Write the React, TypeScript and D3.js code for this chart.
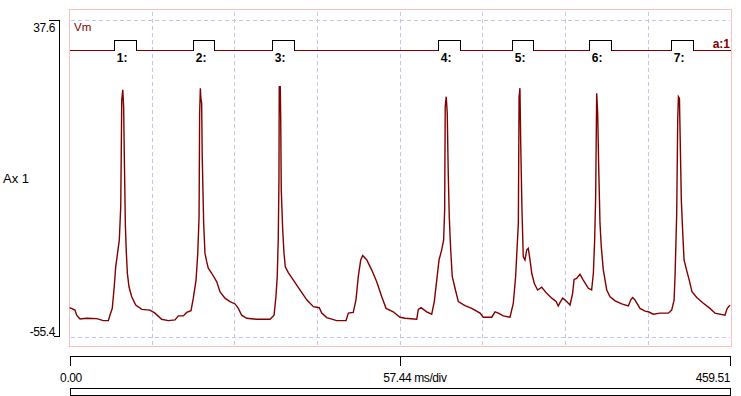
import React from "react";
import * as d3 from "d3";

// Membrane potential trace (time in ms, Vm in mV)
const timeMs = [
  0.1, 3.8, 5.0, 7.3, 11.9, 18.9, 23.5, 27.0, 28.1, 29.7, 31.1, 32.1, 33.5, 34.6, 35.6, 36.3, 37.0, 37.6, 38.1, 38.8,
  39.5, 40.2, 41.3, 43.2, 46.0, 50.2, 55.9, 59.4, 64.0, 68.6, 73.3, 75.6, 79.1, 81.4, 84.4, 86.0, 87.9, 89.1, 90.0, 90.4,
  90.9, 91.3, 91.8, 92.2, 93.2, 94.1, 95.3, 96.4, 98.8, 102.3, 104.5, 108.0, 111.5, 115.0,
  117.3, 119.6, 123.1, 130.0, 139.3, 142.1, 143.4, 144.3, 145.0, 145.5, 145.7, 146.4, 146.7, 147.1, 148.1, 149.0, 149.9,
  152.0, 155.5, 160.1, 164.8, 169.4, 173.5, 175.2, 178.7, 185.6, 192.1, 193.7, 197.1, 199.0, 200.6, 202.3, 203.7, 206.5,
  209.9, 213.4, 216.9, 219.9, 224.9, 229.6,
  233.1, 241.2, 242.3, 244.2, 248.1, 251.6, 253.4, 255.1, 256.7, 258.5, 259.9, 260.6, 261.0, 261.7, 262.4, 263.1, 263.8,
  264.8, 265.9, 267.8, 270.1, 274.7, 279.4, 285.2, 287.4, 293.3, 295.6, 297.9, 301.3, 306.0, 308.3, 309.9, 311.8, 312.3,
  312.9, 313.4, 314.3, 315.2, 316.4, 317.6, 318.7, 319.9, 321.1, 322.9, 325.2, 328.0, 331.5, 335.0, 338.0, 339.5,
  340.7, 342.6, 345.4, 347.7, 349.5, 350.5, 352.3, 354.6, 356.9, 360.4, 362.7, 363.9, 364.8, 365.5, 366.2, 366.9, 367.6,
  368.5, 369.4, 370.8, 373.2, 375.5, 379.0, 383.6, 388.2, 389.9, 391.2, 392.8, 396.3, 399.8, 402.1, 405.5, 410.2, 416.0,
  418.3, 420.0, 420.7, 421.8, 422.5, 423.0, 423.7, 424.1, 425.0, 426.0, 426.9, 428.3, 430.5, 432.4, 435.7, 440.3, 444.9,
  448.4, 455.3, 456.9, 458.8,
];
const vmMv = [
  -46.8, -47.5, -49.0, -50.1, -49.9, -50.0, -50.6, -50.6, -49.0, -47.0, -40.6, -34.8, -30.4, -26.9, -17.2, 14.1, 17.1, 12.2, -3.0, -22.5,
  -30.8, -36.7, -40.6, -43.6, -46.0, -47.3, -47.5, -48.4, -50.2, -50.6, -50.4, -49.2, -49.2, -48.2, -47.7, -44.0, -38.7, -30.8, -20.1, 10.2,
  17.6, 14.5, 13.2, -2.5, -22.0, -30.8, -33.3, -35.2, -36.7, -39.2, -42.1, -44.0, -45.0, -45.7,
  -47.0, -49.0, -49.9, -50.2, -50.2, -49.0, -43.6, -37.7, -26.9, -9.3, 18.0, 18.0, 9.2, -12.3, -24.0, -30.8, -34.8,
  -36.5, -38.7, -41.6, -44.5, -46.5, -46.8, -48.4, -49.7, -50.6, -50.6, -48.4, -48.2, -44.5, -37.7, -32.8, -31.5, -32.8,
  -35.7, -39.2, -43.6, -47.0, -48.0, -49.6,
  -49.9, -50.2, -47.3, -46.8, -48.0, -48.7, -45.0, -38.7, -32.8, -29.9, -26.9, -18.1, 12.2, 15.1, 10.2, -7.4, -20.1,
  -29.9, -37.7, -41.1, -45.0, -46.2, -47.0, -48.4, -49.6, -49.6, -48.0, -48.4, -49.2, -49.6, -45.5, -37.7, -22.0, 15.1,
  17.6, 2.4, -18.1, -31.8, -32.8, -29.9, -29.4, -32.8, -36.7, -39.7, -41.6, -40.8, -42.6, -44.0, -45.0, -46.3,
  -45.3, -44.0, -45.0, -46.0, -42.6, -38.5, -38.2, -37.0, -38.7, -41.1, -41.6, -36.7, -26.9, -14.2, 16.1, 10.2, -5.4,
  -22.0, -28.9, -35.7, -41.6, -43.6, -44.8, -45.7, -46.3, -44.5, -43.8, -44.5, -47.0, -47.8, -48.0, -48.7, -48.4, -48.4,
  -47.5, -44.5, -36.7, -19.1, 8.3, 15.1, 14.6, 5.3, -15.2, -25.0, -32.8, -35.2, -38.7, -42.1, -43.8, -45.5, -47.0,
  -48.4, -49.0, -47.0, -46.1,
];

// Stimulus pulses (ms)
const pulseStart = [31.1, 86.0, 140.9, 256.2, 307.6, 361.1, 418.0];
const pulseEnd = [46.7, 100.6, 156.2, 271.5, 322.2, 376.4, 433.3];
const pulseLabels = ["1:", "2:", "3:", "4:", "5:", "6:", "7:"];

// Axes
const yTicks = [37.6, -55.4];
const yTickLabels = ["37.6", "-55.4"];
const tMax = 459.51;
const msPerDiv = 57.44;
const divisions = 8;
const timeLabels = ["0.00", "57.44 ms/div", "459.51"];
const channelName = "Vm";
const channelTag = "a:1";
const axisName = "Ax 1";

const DARK_RED = "#800000";
const GRID = "#c4c4ec";
const FRAME = "#ffc0c0";
const FONT = "'Liberation Sans', Arial, sans-serif";

export default function App() {
  const left = 69.5;
  const right = 731;
  const x = d3.scaleLinear().domain([0, tMax]).range([left, right]);
  const y = d3.scaleLinear().domain([-55.4, 37.6]).range([337, 20]);
  const yStim = d3.scaleLinear().domain([0, 1]).range([50.5, 40.5]);

  const pts: [number, number][] = timeMs.map((t, i) => [t, vmMv[i]]);
  const line = d3
    .line<[number, number]>()
    .x((d) => x(d[0]))
    .y((d) => y(d[1]));

  // stim baseline segments between pulses
  const edges = [0, ...pulseStart.flatMap((s, i) => [s, pulseEnd[i]]), tMax];
  const baseSegs: [number, number][] = [];
  for (let i = 0; i < edges.length; i += 2) baseSegs.push([edges[i], edges[i + 1]]);

  const gridTimes = d3.range(1, divisions).map((k) => k * msPerDiv);
  const axisTimes = [0, msPerDiv * 4, tMax];

  return (
    <svg
      width={741}
      height={396}
      style={{ position: "absolute", left: 0, top: 0, background: "#fff" }}
      shapeRendering="crispEdges"
    >
      <rect x={0} y={0} width={741} height={396} fill="#fff" />
      {/* frame */}
      <rect x={left} y={9.5} width={right - left} height={336.5} fill="none" stroke={FRAME} strokeWidth={1} />
      {/* grid */}
      {gridTimes.map((t, i) => (
        <line key={"gv" + i} x1={x(t)} x2={x(t)} y1={12} y2={345} stroke={GRID} strokeDasharray="4,3" />
      ))}
      {yTicks.map((v, i) => (
        <line key={"gh" + i} x1={left + 1} x2={right - 1} y1={y(v) + 0.5} y2={y(v) + 0.5} stroke={GRID} strokeDasharray="4,3" />
      ))}
      {/* y axis */}
      <line x1={59.5} x2={59.5} y1={y(37.6)} y2={y(-55.4)} stroke="#000" />
      <line x1={49} x2={60} y1={y(37.6) + 0.5} y2={y(37.6) + 0.5} stroke="#000" />
      <line x1={54} x2={60} y1={y(-55.4) - 0.5} y2={y(-55.4) - 0.5} stroke="#000" />
      {yTickLabels.map((s, i) => (
        <text key={"yl" + i} x={55} y={y(yTicks[i]) + (i === 0 ? 12 : -1)} textAnchor="end" fontFamily={FONT} fontSize={12} letterSpacing={-0.4} fill="#000">
          {s}
        </text>
      ))}
      <text x={3} y={182.5} fontFamily={FONT} fontSize={13} fill="#000">
        {axisName}
      </text>

      {/* stimulus channel */}
      {baseSegs.map((s, i) => (
        <line key={"bs" + i} x1={x(s[0])} x2={x(s[1])} y1={yStim(0)} y2={yStim(0)} stroke={DARK_RED} strokeWidth={1.3} />
      ))}
      {pulseStart.map((s, i) => (
        <path
          key={"p" + i}
          d={`M${x(s)},${yStim(0)}V${yStim(1)}H${x(pulseEnd[i])}V${yStim(0)}`}
          fill="none"
          stroke="#000"
          strokeWidth={1.3}
        />
      ))}
      {pulseLabels.map((l, i) => (
        <text key={"pl" + i} x={x(pulseStart[i]) + 2.5} y={62} fontFamily={FONT} fontSize={12} fontWeight="bold" fill="#000">
          {l}
        </text>
      ))}
      <text x={74} y={31} fontFamily={FONT} fontSize={11.5} fill={DARK_RED}>
        {channelName}
      </text>
      <text x={730} y={48} textAnchor="end" fontFamily={FONT} fontSize={12} fontWeight="bold" fill={DARK_RED}>
        {channelTag}
      </text>

      {/* trace */}
      <path d={line(pts) || ""} fill="none" stroke={DARK_RED} strokeWidth={1.4} shapeRendering="auto" strokeLinejoin="miter" />

      {/* time axis */}
      <line x1={x(0)} x2={x(tMax)} y1={356.5} y2={356.5} stroke="#000" />
      {axisTimes.map((t, i) => (
        <line key={"tt" + i} x1={Math.round(x(t)) + 0.5 - (i === 2 ? 1 : 0)} x2={Math.round(x(t)) + 0.5 - (i === 2 ? 1 : 0)} y1={356.5} y2={366} stroke="#000" />
      ))}
      <text x={x(0) + 1.5} y={382} textAnchor="middle" fontFamily={FONT} fontSize={12} letterSpacing={-0.4} fill="#000">
        {timeLabels[0]}
      </text>
      <text x={x(axisTimes[1]) - 17} y={382} textAnchor="start" fontFamily={FONT} fontSize={12} letterSpacing={-0.4} fill="#000">
        {timeLabels[1]}
      </text>
      <text x={730} y={382} textAnchor="end" fontFamily={FONT} fontSize={12} letterSpacing={-0.4} fill="#000">
        {timeLabels[2]}
      </text>
      {/* scroll bar */}
      <rect x={70.5} y={388.5} width={660} height={7} fill="none" stroke="#000" />
    </svg>
  );
}
